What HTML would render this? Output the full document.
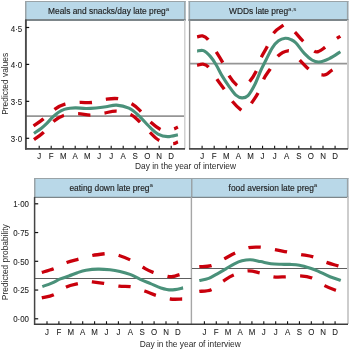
<!DOCTYPE html>
<html><head><meta charset="utf-8"><style>
html,body{margin:0;padding:0;background:#fff;width:350px;height:350px;overflow:hidden}
svg{display:block;font-family:"Liberation Sans", sans-serif;filter:blur(0.3px)}
text{stroke:#222;stroke-width:0.08px}
.h{stroke-width:0.14px}
</style></head><body>
<svg width="350" height="350" viewBox="0 0 350 350">
<rect width="350" height="350" fill="#fff"/>
<rect x="25" y="1" width="160.6" height="20" fill="#b9d8e8"/>
<line x1="25" y1="1.5" x2="185.6" y2="1.5" stroke="#9aa3a7" stroke-width="1"/>
<line x1="25.75" y1="1" x2="25.75" y2="21" stroke="#9aa3a7" stroke-width="1.5"/>
<line x1="184.85" y1="1" x2="184.85" y2="21" stroke="#9aa3a7" stroke-width="1.5"/>
<line x1="25" y1="20.0" x2="185.6" y2="20.0" stroke="#7d868a" stroke-width="2.0"/>
<text class="h" x="48" y="13.7" font-size="8.4" fill="#1a1a1a">Meals and snacks/day late preg<tspan font-size="6.2" dy="-3.2" style="stroke-width:0">a</tspan></text>
<rect x="188.6" y="1" width="159.79999999999998" height="20" fill="#b9d8e8"/>
<line x1="188.6" y1="1.5" x2="348.4" y2="1.5" stroke="#9aa3a7" stroke-width="1"/>
<line x1="189.35" y1="1" x2="189.35" y2="21" stroke="#9aa3a7" stroke-width="1.5"/>
<line x1="347.65" y1="1" x2="347.65" y2="21" stroke="#9aa3a7" stroke-width="1.5"/>
<line x1="188.6" y1="20.0" x2="348.4" y2="20.0" stroke="#7d868a" stroke-width="2.0"/>
<text class="h" x="229" y="13.7" font-size="8.4" fill="#1a1a1a">WDDs late preg<tspan font-size="6.2" dy="-2.5" style="stroke-width:0">a,s</tspan></text>
<line x1="184.8" y1="20" x2="184.8" y2="149" stroke="#cdcdcd" stroke-width="1.4"/>
<line x1="348" y1="20" x2="348" y2="149" stroke="#c8c8c8" stroke-width="1.8"/>
<line x1="189.6" y1="20" x2="189.6" y2="149" stroke="#8f8f8f" stroke-width="1.4"/>
<line x1="26" y1="116.1" x2="184" y2="116.1" stroke="#959595" stroke-width="1.9"/>
<line x1="190" y1="63.6" x2="347" y2="63.6" stroke="#959595" stroke-width="1.9"/>
<path d="M33.60,126.00 C35.18,124.85 39.60,121.87 43.10,119.10 C46.60,116.33 50.97,111.88 54.60,109.40 C58.23,106.92 60.82,105.35 64.90,104.20 C68.98,103.05 74.57,102.78 79.10,102.50 C83.63,102.22 87.80,103.00 92.10,102.50 C96.40,102.00 100.58,100.13 104.90,99.50 C109.22,98.87 113.53,97.98 118.00,98.70 C122.47,99.42 127.88,101.67 131.70,103.80 C135.52,105.93 137.80,108.48 140.90,111.50 C144.00,114.52 147.02,118.88 150.30,121.90 C153.58,124.92 157.82,128.12 160.60,129.60 C163.38,131.08 164.77,130.92 167.00,130.80 C169.23,130.68 172.18,129.53 174.00,128.90 C175.82,128.27 177.25,127.32 177.90,127.00" fill="none" stroke="#c9000c" stroke-width="3.3" stroke-dasharray="12.4 14.2"/>
<path d="M34.00,139.60 C35.52,138.47 39.95,135.75 43.10,132.80 C46.25,129.85 49.57,124.75 52.90,121.90 C56.23,119.05 59.02,117.07 63.10,115.70 C67.18,114.33 72.82,113.80 77.40,113.70 C81.98,113.60 86.17,115.20 90.60,115.10 C95.03,115.00 99.72,113.75 104.00,113.10 C108.28,112.45 111.87,110.98 116.30,111.20 C120.73,111.42 126.70,112.63 130.60,114.40 C134.50,116.17 136.53,118.85 139.70,121.80 C142.87,124.75 146.33,128.98 149.60,132.10 C152.87,135.22 155.55,138.57 159.30,140.50 C163.05,142.43 169.00,143.48 172.10,143.70 C175.20,143.92 176.93,142.12 177.90,141.80" fill="none" stroke="#c9000c" stroke-width="3.3" stroke-dasharray="12.4 14.2"/>
<path d="M34.00,133.40 C35.23,132.53 39.22,129.92 41.40,128.20 C43.58,126.48 45.18,125.00 47.10,123.10 C49.02,121.20 50.98,118.62 52.90,116.80 C54.82,114.98 56.70,113.43 58.60,112.20 C60.50,110.97 62.40,110.07 64.30,109.40 C66.20,108.73 68.05,108.45 70.00,108.20 C71.95,107.95 73.33,107.85 76.00,107.90 C78.67,107.95 82.67,108.48 86.00,108.50 C89.33,108.52 92.67,108.28 96.00,108.00 C99.33,107.72 102.58,107.28 106.00,106.80 C109.42,106.32 112.68,104.87 116.50,105.10 C120.32,105.33 125.32,106.57 128.90,108.20 C132.48,109.83 134.43,111.65 138.00,114.90 C141.57,118.15 146.97,124.50 150.30,127.70 C153.63,130.90 155.12,132.62 158.00,134.10 C160.88,135.58 164.28,136.50 167.60,136.60 C170.92,136.70 176.18,135.02 177.90,134.70" fill="none" stroke="#4a917a" stroke-width="3.1"/>
<path d="M197.10,36.90 C198.00,36.73 200.70,35.50 202.50,35.90 C204.30,36.30 205.58,36.60 207.90,39.30 C210.22,42.00 213.90,48.17 216.40,52.10 C218.90,56.03 220.82,58.98 222.90,62.90 C224.98,66.82 226.62,71.92 228.90,75.60 C231.18,79.28 234.33,83.18 236.60,85.00 C238.87,86.82 240.40,87.00 242.50,86.50 C244.60,86.00 246.92,84.53 249.20,82.00 C251.48,79.47 254.23,75.30 256.20,71.30 C258.17,67.30 259.20,62.05 261.00,58.00 C262.80,53.95 265.00,51.03 267.00,47.00 C269.00,42.97 270.50,37.28 273.00,33.80 C275.50,30.32 279.67,27.57 282.00,26.10 C284.33,24.63 284.85,24.00 287.00,25.00 C289.15,26.00 292.30,29.48 294.90,32.10 C297.50,34.72 299.43,37.57 302.60,40.70 C305.77,43.83 311.17,49.13 313.90,50.90 C316.63,52.67 317.15,51.88 319.00,51.30 C320.85,50.72 322.15,49.47 325.00,47.40 C327.85,45.33 333.53,40.75 336.10,38.90 C338.67,37.05 339.68,36.73 340.40,36.30" fill="none" stroke="#c9000c" stroke-width="3.3" stroke-dasharray="12.6 14.5"/>
<path d="M197.10,65.40 C198.08,65.18 201.08,63.82 203.00,64.10 C204.92,64.38 206.27,64.57 208.60,67.10 C210.93,69.63 214.45,75.70 217.00,79.30 C219.55,82.90 221.40,85.08 223.90,88.70 C226.40,92.32 229.17,97.47 232.00,101.00 C234.83,104.53 238.57,108.23 240.90,109.90 C243.23,111.57 244.07,112.37 246.00,111.00 C247.93,109.63 250.42,104.87 252.50,101.70 C254.58,98.53 256.58,95.87 258.50,92.00 C260.42,88.13 261.95,82.50 264.00,78.50 C266.05,74.50 268.47,71.75 270.80,68.00 C273.13,64.25 275.13,58.87 278.00,56.00 C280.87,53.13 285.33,51.13 288.00,50.80 C290.67,50.47 292.00,52.40 294.00,54.00 C296.00,55.60 297.57,57.90 300.00,60.40 C302.43,62.90 305.93,66.73 308.60,69.00 C311.27,71.27 313.83,73.02 316.00,74.00 C318.17,74.98 319.93,74.82 321.60,74.90 C323.27,74.98 324.15,75.37 326.00,74.50 C327.85,73.63 330.30,71.12 332.70,69.70 C335.10,68.28 339.12,66.62 340.40,66.00" fill="none" stroke="#c9000c" stroke-width="3.3" stroke-dasharray="12.6 14.5"/>
<path d="M197.10,51.10 C198.17,51.02 201.33,49.77 203.50,50.60 C205.67,51.43 208.00,53.75 210.10,56.10 C212.20,58.45 214.10,61.40 216.10,64.70 C218.10,68.00 219.95,72.30 222.10,75.90 C224.25,79.50 226.70,83.08 229.00,86.30 C231.30,89.52 233.73,93.27 235.90,95.20 C238.07,97.13 239.98,97.83 242.00,97.90 C244.02,97.97 245.83,97.88 248.00,95.60 C250.17,93.32 252.83,88.47 255.00,84.20 C257.17,79.93 259.17,74.03 261.00,70.00 C262.83,65.97 264.12,63.70 266.00,60.00 C267.88,56.30 270.22,51.00 272.30,47.80 C274.38,44.60 276.35,42.38 278.50,40.80 C280.65,39.22 283.12,38.50 285.20,38.30 C287.28,38.10 289.20,38.82 291.00,39.60 C292.80,40.38 293.78,40.70 296.00,43.00 C298.22,45.30 301.63,50.57 304.30,53.40 C306.97,56.23 309.55,58.57 312.00,60.00 C314.45,61.43 316.12,62.23 319.00,62.00 C321.88,61.77 325.73,60.32 329.30,58.60 C332.87,56.88 338.55,52.85 340.40,51.70" fill="none" stroke="#4a917a" stroke-width="3.1"/>
<line x1="25.9" y1="19.5" x2="25.9" y2="149.6" stroke="#4a4a4a" stroke-width="1.9"/>
<line x1="25" y1="148.8" x2="185" y2="148.8" stroke="#4a4a4a" stroke-width="1.8"/>
<line x1="189" y1="148.8" x2="348" y2="148.8" stroke="#4a4a4a" stroke-width="1.8"/>
<line x1="26" y1="27.5" x2="29.2" y2="27.5" stroke="#111" stroke-width="1.2"/>
<text transform="translate(22.2,31.5) scale(0.89,1)" font-size="8.9" text-anchor="end" fill="#222">4·5</text>
<line x1="26" y1="64.4" x2="29.2" y2="64.4" stroke="#111" stroke-width="1.2"/>
<text transform="translate(22.2,68.4) scale(0.89,1)" font-size="8.9" text-anchor="end" fill="#222">4·0</text>
<line x1="26" y1="101.35" x2="29.2" y2="101.35" stroke="#111" stroke-width="1.2"/>
<text transform="translate(22.2,105.35) scale(0.89,1)" font-size="8.9" text-anchor="end" fill="#222">3·5</text>
<line x1="26" y1="138.3" x2="29.2" y2="138.3" stroke="#111" stroke-width="1.2"/>
<text transform="translate(22.2,142.3) scale(0.89,1)" font-size="8.9" text-anchor="end" fill="#222">3·0</text>
<line x1="39.20" y1="145.7" x2="39.20" y2="148.5" stroke="#111" stroke-width="1.1"/>
<text transform="translate(39.20,158.7) scale(0.89,1)" font-size="8.9" text-anchor="middle" fill="#222">J</text>
<line x1="51.20" y1="145.7" x2="51.20" y2="148.5" stroke="#111" stroke-width="1.1"/>
<text transform="translate(51.20,158.7) scale(0.89,1)" font-size="8.9" text-anchor="middle" fill="#222">F</text>
<line x1="63.20" y1="145.7" x2="63.20" y2="148.5" stroke="#111" stroke-width="1.1"/>
<text transform="translate(63.20,158.7) scale(0.89,1)" font-size="8.9" text-anchor="middle" fill="#222">M</text>
<line x1="75.20" y1="145.7" x2="75.20" y2="148.5" stroke="#111" stroke-width="1.1"/>
<text transform="translate(75.20,158.7) scale(0.89,1)" font-size="8.9" text-anchor="middle" fill="#222">A</text>
<line x1="87.20" y1="145.7" x2="87.20" y2="148.5" stroke="#111" stroke-width="1.1"/>
<text transform="translate(87.20,158.7) scale(0.89,1)" font-size="8.9" text-anchor="middle" fill="#222">M</text>
<line x1="99.20" y1="145.7" x2="99.20" y2="148.5" stroke="#111" stroke-width="1.1"/>
<text transform="translate(99.20,158.7) scale(0.89,1)" font-size="8.9" text-anchor="middle" fill="#222">J</text>
<line x1="111.20" y1="145.7" x2="111.20" y2="148.5" stroke="#111" stroke-width="1.1"/>
<text transform="translate(111.20,158.7) scale(0.89,1)" font-size="8.9" text-anchor="middle" fill="#222">J</text>
<line x1="123.20" y1="145.7" x2="123.20" y2="148.5" stroke="#111" stroke-width="1.1"/>
<text transform="translate(123.20,158.7) scale(0.89,1)" font-size="8.9" text-anchor="middle" fill="#222">A</text>
<line x1="135.20" y1="145.7" x2="135.20" y2="148.5" stroke="#111" stroke-width="1.1"/>
<text transform="translate(135.20,158.7) scale(0.89,1)" font-size="8.9" text-anchor="middle" fill="#222">S</text>
<line x1="147.20" y1="145.7" x2="147.20" y2="148.5" stroke="#111" stroke-width="1.1"/>
<text transform="translate(147.20,158.7) scale(0.89,1)" font-size="8.9" text-anchor="middle" fill="#222">O</text>
<line x1="159.20" y1="145.7" x2="159.20" y2="148.5" stroke="#111" stroke-width="1.1"/>
<text transform="translate(159.20,158.7) scale(0.89,1)" font-size="8.9" text-anchor="middle" fill="#222">N</text>
<line x1="171.20" y1="145.7" x2="171.20" y2="148.5" stroke="#111" stroke-width="1.1"/>
<text transform="translate(171.20,158.7) scale(0.89,1)" font-size="8.9" text-anchor="middle" fill="#222">D</text>
<line x1="202.10" y1="145.7" x2="202.10" y2="148.5" stroke="#111" stroke-width="1.1"/>
<text transform="translate(202.10,158.7) scale(0.89,1)" font-size="8.9" text-anchor="middle" fill="#222">J</text>
<line x1="214.19" y1="145.7" x2="214.19" y2="148.5" stroke="#111" stroke-width="1.1"/>
<text transform="translate(214.19,158.7) scale(0.89,1)" font-size="8.9" text-anchor="middle" fill="#222">F</text>
<line x1="226.28" y1="145.7" x2="226.28" y2="148.5" stroke="#111" stroke-width="1.1"/>
<text transform="translate(226.28,158.7) scale(0.89,1)" font-size="8.9" text-anchor="middle" fill="#222">M</text>
<line x1="238.37" y1="145.7" x2="238.37" y2="148.5" stroke="#111" stroke-width="1.1"/>
<text transform="translate(238.37,158.7) scale(0.89,1)" font-size="8.9" text-anchor="middle" fill="#222">A</text>
<line x1="250.46" y1="145.7" x2="250.46" y2="148.5" stroke="#111" stroke-width="1.1"/>
<text transform="translate(250.46,158.7) scale(0.89,1)" font-size="8.9" text-anchor="middle" fill="#222">M</text>
<line x1="262.55" y1="145.7" x2="262.55" y2="148.5" stroke="#111" stroke-width="1.1"/>
<text transform="translate(262.55,158.7) scale(0.89,1)" font-size="8.9" text-anchor="middle" fill="#222">J</text>
<line x1="274.64" y1="145.7" x2="274.64" y2="148.5" stroke="#111" stroke-width="1.1"/>
<text transform="translate(274.64,158.7) scale(0.89,1)" font-size="8.9" text-anchor="middle" fill="#222">J</text>
<line x1="286.73" y1="145.7" x2="286.73" y2="148.5" stroke="#111" stroke-width="1.1"/>
<text transform="translate(286.73,158.7) scale(0.89,1)" font-size="8.9" text-anchor="middle" fill="#222">A</text>
<line x1="298.82" y1="145.7" x2="298.82" y2="148.5" stroke="#111" stroke-width="1.1"/>
<text transform="translate(298.82,158.7) scale(0.89,1)" font-size="8.9" text-anchor="middle" fill="#222">S</text>
<line x1="310.91" y1="145.7" x2="310.91" y2="148.5" stroke="#111" stroke-width="1.1"/>
<text transform="translate(310.91,158.7) scale(0.89,1)" font-size="8.9" text-anchor="middle" fill="#222">O</text>
<line x1="323.00" y1="145.7" x2="323.00" y2="148.5" stroke="#111" stroke-width="1.1"/>
<text transform="translate(323.00,158.7) scale(0.89,1)" font-size="8.9" text-anchor="middle" fill="#222">N</text>
<line x1="335.09" y1="145.7" x2="335.09" y2="148.5" stroke="#111" stroke-width="1.1"/>
<text transform="translate(335.09,158.7) scale(0.89,1)" font-size="8.9" text-anchor="middle" fill="#222">D</text>
<text x="185.5" y="169" font-size="8.4" text-anchor="middle" fill="#2a2a2a" style="stroke-width:0">Day in the year of interview</text>
<text transform="translate(8.2,83.8) rotate(-90)" x="0" y="0" font-size="8.4" text-anchor="middle" fill="#2a2a2a" style="stroke-width:0">Predicted values</text>
<rect x="34" y="178" width="158.6" height="20" fill="#b9d8e8"/>
<line x1="34" y1="178.5" x2="192.6" y2="178.5" stroke="#9aa3a7" stroke-width="1"/>
<line x1="34.75" y1="178" x2="34.75" y2="198" stroke="#9aa3a7" stroke-width="1.5"/>
<line x1="191.85" y1="178" x2="191.85" y2="198" stroke="#9aa3a7" stroke-width="1.5"/>
<line x1="34" y1="197.35" x2="192.6" y2="197.35" stroke="#7d868a" stroke-width="1.3"/>
<text class="h" x="69.4" y="190.9" font-size="8.4" fill="#1a1a1a">eating down late preg<tspan font-size="6.2" dy="-3.8" style="stroke-width:0">a</tspan></text>
<rect x="191" y="178" width="157.39999999999998" height="20" fill="#b9d8e8"/>
<line x1="191" y1="178.5" x2="348.4" y2="178.5" stroke="#9aa3a7" stroke-width="1"/>
<line x1="191.75" y1="178" x2="191.75" y2="198" stroke="#9aa3a7" stroke-width="1.5"/>
<line x1="347.65" y1="178" x2="347.65" y2="198" stroke="#9aa3a7" stroke-width="1.5"/>
<line x1="191" y1="197.35" x2="348.4" y2="197.35" stroke="#7d868a" stroke-width="1.3"/>
<text class="h" x="228.6" y="190.9" font-size="8.4" fill="#1a1a1a">food aversion late preg<tspan font-size="6.2" dy="-3.8" style="stroke-width:0">a</tspan></text>
<line x1="191.4" y1="197" x2="191.4" y2="324" stroke="#a6a6a6" stroke-width="1.4"/>
<line x1="348" y1="197" x2="348" y2="324" stroke="#c8c8c8" stroke-width="1.8"/>
<line x1="35" y1="278.5" x2="191.5" y2="278.5" stroke="#5e5e5e" stroke-width="1.2"/>
<line x1="192" y1="268.5" x2="347" y2="268.5" stroke="#5e5e5e" stroke-width="1.2"/>
<path d="M41.80,272.40 C43.80,271.78 49.63,270.35 53.80,268.70 C57.97,267.05 62.63,264.10 66.80,262.50 C70.97,260.90 74.55,260.27 78.80,259.10 C83.05,257.93 87.95,256.40 92.30,255.50 C96.65,254.60 101.95,254.03 104.90,253.70 C107.85,253.37 107.63,253.20 110.00,253.50 C112.37,253.80 115.67,254.40 119.10,255.50 C122.53,256.60 126.63,258.13 130.60,260.10 C134.57,262.07 139.15,265.25 142.90,267.30 C146.65,269.35 148.97,270.88 153.10,272.40 C157.23,273.92 164.38,275.72 167.70,276.40 C171.02,277.08 171.00,276.82 173.00,276.50 C175.00,276.18 178.02,275.00 179.70,274.50 C181.38,274.00 182.53,273.67 183.10,273.50" fill="none" stroke="#c9000c" stroke-width="3.3" stroke-dasharray="12.4 14.3"/>
<path d="M41.80,297.80 C43.80,297.28 49.72,296.50 53.80,294.70 C57.88,292.90 62.22,288.85 66.30,287.00 C70.38,285.15 74.68,284.47 78.30,283.60 C81.92,282.73 85.63,282.08 88.00,281.80 C90.37,281.52 89.88,281.63 92.50,281.90 C95.12,282.17 99.27,282.68 103.70,283.40 C108.13,284.12 114.43,285.62 119.10,286.20 C123.77,286.78 127.45,286.10 131.70,286.90 C135.95,287.70 140.45,289.55 144.60,291.00 C148.75,292.45 152.32,294.27 156.60,295.60 C160.88,296.93 166.02,298.43 170.30,299.00 C174.58,299.57 180.30,299.00 182.30,299.00" fill="none" stroke="#c9000c" stroke-width="3.3" stroke-dasharray="12.4 14.3"/>
<path d="M42.30,286.50 C43.87,285.93 48.70,284.37 51.70,283.10 C54.70,281.83 57.43,280.08 60.30,278.90 C63.17,277.72 66.05,277.03 68.90,276.00 C71.75,274.97 74.55,273.65 77.40,272.70 C80.25,271.75 82.57,270.90 86.00,270.30 C89.43,269.70 94.00,269.18 98.00,269.10 C102.00,269.02 106.33,269.40 110.00,269.80 C113.67,270.20 116.67,270.73 120.00,271.50 C123.33,272.27 126.62,273.10 130.00,274.40 C133.38,275.70 136.87,277.77 140.30,279.30 C143.73,280.83 147.17,282.17 150.60,283.60 C154.03,285.03 157.48,286.85 160.90,287.90 C164.32,288.95 167.40,289.90 171.10,289.90 C174.80,289.90 181.10,288.23 183.10,287.90" fill="none" stroke="#4a917a" stroke-width="3.1"/>
<path d="M199.30,266.60 C201.30,266.45 207.17,266.98 211.30,265.70 C215.43,264.42 220.10,261.03 224.10,258.90 C228.10,256.77 231.22,254.77 235.30,252.90 C239.38,251.03 244.38,248.65 248.60,247.70 C252.82,246.75 256.32,246.92 260.60,247.20 C264.88,247.48 269.88,248.60 274.30,249.40 C278.72,250.20 282.65,251.15 287.10,252.00 C291.55,252.85 296.58,253.67 301.00,254.50 C305.42,255.33 309.40,255.70 313.60,257.00 C317.80,258.30 322.13,260.82 326.20,262.30 C330.27,263.78 335.62,265.15 338.00,265.90 C340.38,266.65 340.08,266.65 340.50,266.80" fill="none" stroke="#c9000c" stroke-width="3.3" stroke-dasharray="12.4 14.3"/>
<path d="M199.30,291.40 C201.30,291.12 207.30,291.42 211.30,289.70 C215.30,287.98 219.58,283.53 223.30,281.10 C227.02,278.67 229.53,276.80 233.60,275.10 C237.67,273.40 243.35,271.27 247.70,270.90 C252.05,270.53 255.42,271.92 259.70,272.90 C263.98,273.88 269.12,276.15 273.40,276.80 C277.68,277.45 280.93,276.95 285.40,276.80 C289.87,276.65 295.77,275.70 300.20,275.90 C304.63,276.10 307.93,276.38 312.00,278.00 C316.07,279.62 320.67,283.55 324.60,285.60 C328.53,287.65 332.95,289.32 335.60,290.30 C338.25,291.28 339.68,291.30 340.50,291.50" fill="none" stroke="#c9000c" stroke-width="3.3" stroke-dasharray="12.4 14.3"/>
<path d="M199.30,280.50 C200.87,280.15 205.70,279.52 208.70,278.40 C211.70,277.28 214.43,275.40 217.30,273.80 C220.17,272.20 223.05,270.47 225.90,268.80 C228.75,267.13 231.72,265.13 234.40,263.80 C237.08,262.47 239.35,261.48 242.00,260.80 C244.65,260.12 247.20,259.57 250.30,259.70 C253.40,259.83 257.17,260.93 260.60,261.60 C264.03,262.27 267.48,263.25 270.90,263.70 C274.32,264.15 277.92,264.18 281.10,264.30 C284.28,264.42 286.95,264.25 290.00,264.40 C293.05,264.55 296.00,264.57 299.40,265.20 C302.80,265.83 307.30,267.22 310.40,268.20 C313.50,269.18 314.73,269.67 318.00,271.10 C321.27,272.53 326.20,275.25 330.00,276.80 C333.80,278.35 339.00,279.80 340.80,280.40" fill="none" stroke="#4a917a" stroke-width="3.1"/>
<line x1="34.6" y1="197" x2="34.6" y2="325" stroke="#444" stroke-width="1.5"/>
<line x1="34" y1="324.3" x2="348" y2="324.3" stroke="#3c3c3c" stroke-width="1.5"/>
<line x1="35" y1="203.8" x2="38.2" y2="203.8" stroke="#111" stroke-width="1.2"/>
<text transform="translate(29.0,207.10000000000002) scale(0.89,1)" font-size="8.9" text-anchor="end" fill="#222">1·00</text>
<line x1="35" y1="232.55" x2="38.2" y2="232.55" stroke="#111" stroke-width="1.2"/>
<text transform="translate(29.0,235.85000000000002) scale(0.89,1)" font-size="8.9" text-anchor="end" fill="#222">0·75</text>
<line x1="35" y1="261.3" x2="38.2" y2="261.3" stroke="#111" stroke-width="1.2"/>
<text transform="translate(29.0,264.6) scale(0.89,1)" font-size="8.9" text-anchor="end" fill="#222">0·50</text>
<line x1="35" y1="290.05" x2="38.2" y2="290.05" stroke="#111" stroke-width="1.2"/>
<text transform="translate(29.0,293.35) scale(0.89,1)" font-size="8.9" text-anchor="end" fill="#222">0·25</text>
<line x1="35" y1="318.8" x2="38.2" y2="318.8" stroke="#111" stroke-width="1.2"/>
<text transform="translate(29.0,322.1) scale(0.89,1)" font-size="8.9" text-anchor="end" fill="#222">0·00</text>
<line x1="47.00" y1="321.2" x2="47.00" y2="324" stroke="#111" stroke-width="1.1"/>
<text transform="translate(47.00,335.1) scale(0.89,1)" font-size="8.9" text-anchor="middle" fill="#222">J</text>
<line x1="58.90" y1="321.2" x2="58.90" y2="324" stroke="#111" stroke-width="1.1"/>
<text transform="translate(58.90,335.1) scale(0.89,1)" font-size="8.9" text-anchor="middle" fill="#222">F</text>
<line x1="70.80" y1="321.2" x2="70.80" y2="324" stroke="#111" stroke-width="1.1"/>
<text transform="translate(70.80,335.1) scale(0.89,1)" font-size="8.9" text-anchor="middle" fill="#222">M</text>
<line x1="82.70" y1="321.2" x2="82.70" y2="324" stroke="#111" stroke-width="1.1"/>
<text transform="translate(82.70,335.1) scale(0.89,1)" font-size="8.9" text-anchor="middle" fill="#222">A</text>
<line x1="94.60" y1="321.2" x2="94.60" y2="324" stroke="#111" stroke-width="1.1"/>
<text transform="translate(94.60,335.1) scale(0.89,1)" font-size="8.9" text-anchor="middle" fill="#222">M</text>
<line x1="106.50" y1="321.2" x2="106.50" y2="324" stroke="#111" stroke-width="1.1"/>
<text transform="translate(106.50,335.1) scale(0.89,1)" font-size="8.9" text-anchor="middle" fill="#222">J</text>
<line x1="118.40" y1="321.2" x2="118.40" y2="324" stroke="#111" stroke-width="1.1"/>
<text transform="translate(118.40,335.1) scale(0.89,1)" font-size="8.9" text-anchor="middle" fill="#222">J</text>
<line x1="130.30" y1="321.2" x2="130.30" y2="324" stroke="#111" stroke-width="1.1"/>
<text transform="translate(130.30,335.1) scale(0.89,1)" font-size="8.9" text-anchor="middle" fill="#222">A</text>
<line x1="142.20" y1="321.2" x2="142.20" y2="324" stroke="#111" stroke-width="1.1"/>
<text transform="translate(142.20,335.1) scale(0.89,1)" font-size="8.9" text-anchor="middle" fill="#222">S</text>
<line x1="154.10" y1="321.2" x2="154.10" y2="324" stroke="#111" stroke-width="1.1"/>
<text transform="translate(154.10,335.1) scale(0.89,1)" font-size="8.9" text-anchor="middle" fill="#222">O</text>
<line x1="166.00" y1="321.2" x2="166.00" y2="324" stroke="#111" stroke-width="1.1"/>
<text transform="translate(166.00,335.1) scale(0.89,1)" font-size="8.9" text-anchor="middle" fill="#222">N</text>
<line x1="177.90" y1="321.2" x2="177.90" y2="324" stroke="#111" stroke-width="1.1"/>
<text transform="translate(177.90,335.1) scale(0.89,1)" font-size="8.9" text-anchor="middle" fill="#222">D</text>
<line x1="204.40" y1="321.2" x2="204.40" y2="324" stroke="#111" stroke-width="1.1"/>
<text transform="translate(204.40,335.1) scale(0.89,1)" font-size="8.9" text-anchor="middle" fill="#222">J</text>
<line x1="216.28" y1="321.2" x2="216.28" y2="324" stroke="#111" stroke-width="1.1"/>
<text transform="translate(216.28,335.1) scale(0.89,1)" font-size="8.9" text-anchor="middle" fill="#222">F</text>
<line x1="228.16" y1="321.2" x2="228.16" y2="324" stroke="#111" stroke-width="1.1"/>
<text transform="translate(228.16,335.1) scale(0.89,1)" font-size="8.9" text-anchor="middle" fill="#222">M</text>
<line x1="240.04" y1="321.2" x2="240.04" y2="324" stroke="#111" stroke-width="1.1"/>
<text transform="translate(240.04,335.1) scale(0.89,1)" font-size="8.9" text-anchor="middle" fill="#222">A</text>
<line x1="251.92" y1="321.2" x2="251.92" y2="324" stroke="#111" stroke-width="1.1"/>
<text transform="translate(251.92,335.1) scale(0.89,1)" font-size="8.9" text-anchor="middle" fill="#222">M</text>
<line x1="263.80" y1="321.2" x2="263.80" y2="324" stroke="#111" stroke-width="1.1"/>
<text transform="translate(263.80,335.1) scale(0.89,1)" font-size="8.9" text-anchor="middle" fill="#222">J</text>
<line x1="275.68" y1="321.2" x2="275.68" y2="324" stroke="#111" stroke-width="1.1"/>
<text transform="translate(275.68,335.1) scale(0.89,1)" font-size="8.9" text-anchor="middle" fill="#222">J</text>
<line x1="287.56" y1="321.2" x2="287.56" y2="324" stroke="#111" stroke-width="1.1"/>
<text transform="translate(287.56,335.1) scale(0.89,1)" font-size="8.9" text-anchor="middle" fill="#222">A</text>
<line x1="299.44" y1="321.2" x2="299.44" y2="324" stroke="#111" stroke-width="1.1"/>
<text transform="translate(299.44,335.1) scale(0.89,1)" font-size="8.9" text-anchor="middle" fill="#222">S</text>
<line x1="311.32" y1="321.2" x2="311.32" y2="324" stroke="#111" stroke-width="1.1"/>
<text transform="translate(311.32,335.1) scale(0.89,1)" font-size="8.9" text-anchor="middle" fill="#222">O</text>
<line x1="323.20" y1="321.2" x2="323.20" y2="324" stroke="#111" stroke-width="1.1"/>
<text transform="translate(323.20,335.1) scale(0.89,1)" font-size="8.9" text-anchor="middle" fill="#222">N</text>
<line x1="335.08" y1="321.2" x2="335.08" y2="324" stroke="#111" stroke-width="1.1"/>
<text transform="translate(335.08,335.1) scale(0.89,1)" font-size="8.9" text-anchor="middle" fill="#222">D</text>
<text x="190.3" y="346.5" font-size="8.4" text-anchor="middle" fill="#2a2a2a" style="stroke-width:0">Day in the year of interview</text>
<text transform="translate(8.2,262.2) rotate(-90)" x="0" y="0" font-size="8.4" text-anchor="middle" fill="#2a2a2a" style="stroke-width:0">Predicted probability</text>
</svg>
</body></html>
